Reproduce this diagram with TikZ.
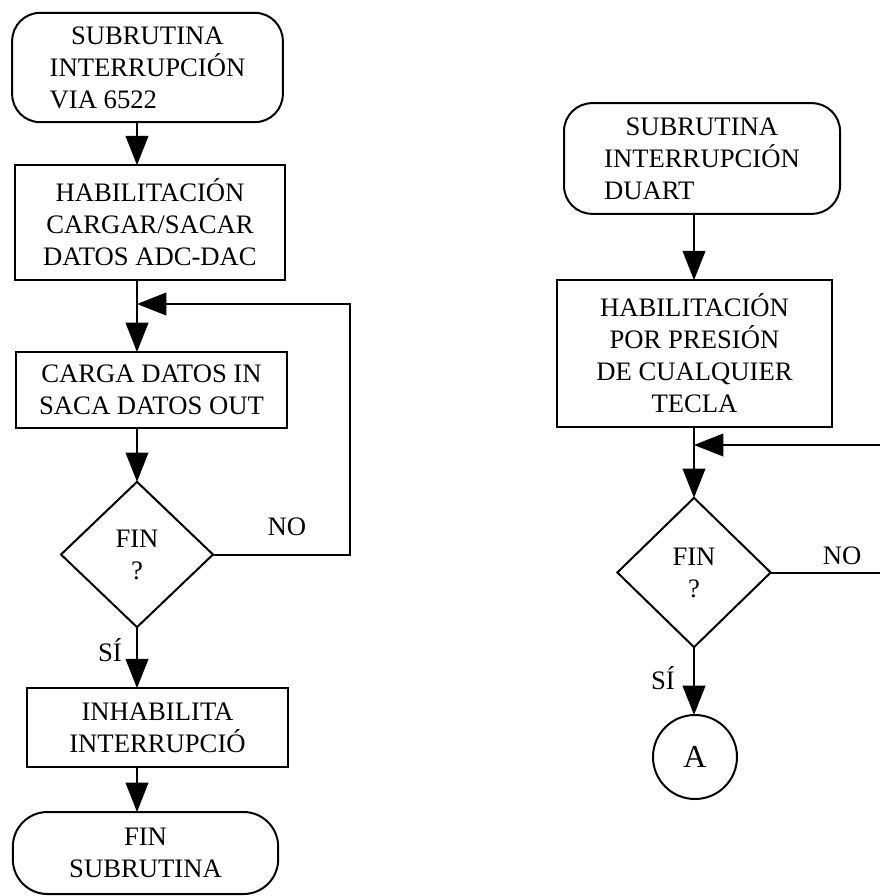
\documentclass[tikz,border=0pt]{standalone}
\usepackage{fontspec}
\setmainfont{Liberation Serif}
\usetikzlibrary{shapes.geometric,arrows.meta}

\begin{document}
\begin{tikzpicture}[x=0.75pt, y=-0.75pt, line width=1.5pt,
  >={Triangle[length=22pt,width=17pt]},
  every node/.style={font=\fontsize{20}{24}\selectfont, inner sep=0pt, outer sep=0pt},
  term/.style={draw, rounded corners=21pt, align=center},
  bloc/.style={draw, align=center},
  decizie/.style={draw, diamond, align=center},
  conector/.style={draw, circle}]
  \useasboundingbox (0,0) rectangle (879,896);

  % Subrutina VIA 6522 -- columna izquierda
  \node[term, align=left, minimum width=203pt, minimum height=82pt] (lini) at (147.5,67.5)
    {\hspace*{16pt}SUBRUTINA\\INTERRUPCIÓN\\VIA 6522};
  \node[bloc, minimum width=202.5pt, minimum height=86pt] (lhab) at (150,222.5)
    {HABILITACIÓN\\CARGAR/SACAR\\DATOS ADC-DAC};
  \node[bloc, minimum width=203pt, minimum height=57pt] (lcarga) at (151.5,390)
    {CARGA DATOS IN\\SACA DATOS OUT};
  \node[decizie, minimum width=114pt, minimum height=109pt] (ldec) at (137,554.5) {FIN\\?};
  \node[bloc, minimum width=196pt, minimum height=59pt] (linh) at (157.5,727.5)
    {INHABILITA\\INTERRUPCIÓ};
  \node[term, rounded corners=26pt, minimum width=199pt, minimum height=61.5pt] (lfin) at (145.5,853)
    {FIN\\SUBRUTINA};

  \coordinate (lcol) at (137,0);
  \coordinate (ljoin) at (137,304);
  \coordinate (lvuelta) at (350,304);

  \draw[->] (lini.south -| lcol) -- (lhab.north -| lcol);
  \draw[->] (lhab.south -| lcol) -- (lcarga.north -| lcol);
  \draw[->] (lcarga.south -| lcol) -- (ldec.north);
  \draw[->] (ldec.south) -- (linh.north -| lcol);
  \draw[->] (linh.south -| lcol) -- (lfin.north -| lcol);
  % lazo NO
  \draw[->] (ldec.east) -| (lvuelta) -- (ljoin);

  \node (lno) at (287,527) {NO};
  \node (lsi) at (110,650) {SÍ};

  % Subrutina DUART -- columna derecha
  \node[term, align=left, minimum width=207pt, minimum height=83pt] (rini) at (702,158.5)
    {\hspace*{16pt}SUBRUTINA\\INTERRUPCIÓN\\DUART};
  \node[bloc, minimum width=206pt, minimum height=110pt] (rhab) at (694.5,353.5)
    {HABILITACIÓN\\POR PRESIÓN\\DE CUALQUIER\\TECLA};
  \node[decizie, minimum width=115pt, minimum height=112pt] (rdec) at (694,572.5) {FIN\\?};
  \node[conector, minimum size=63pt, font=\fontsize{24}{28}\selectfont] (rcon) at (695,757) {A};

  \coordinate (rcol) at (694,0);
  \coordinate (rjoin) at (694,445);
  \coordinate (rvuelta) at (900,445); % sale fuera del borde

  \draw[->] (rini.south -| rcol) -- (rhab.north -| rcol);
  \draw[->] (rhab.south -| rcol) -- (rdec.north);
  \draw[->] (rdec.south) -- (rcon.north -| rcol);
  % lazo NO
  \draw[->] (rdec.east) -| (rvuelta) -- (rjoin);

  \node (rno) at (842,556) {NO};
  \node (rsi) at (663,678) {SÍ};
\end{tikzpicture}
\end{document}
